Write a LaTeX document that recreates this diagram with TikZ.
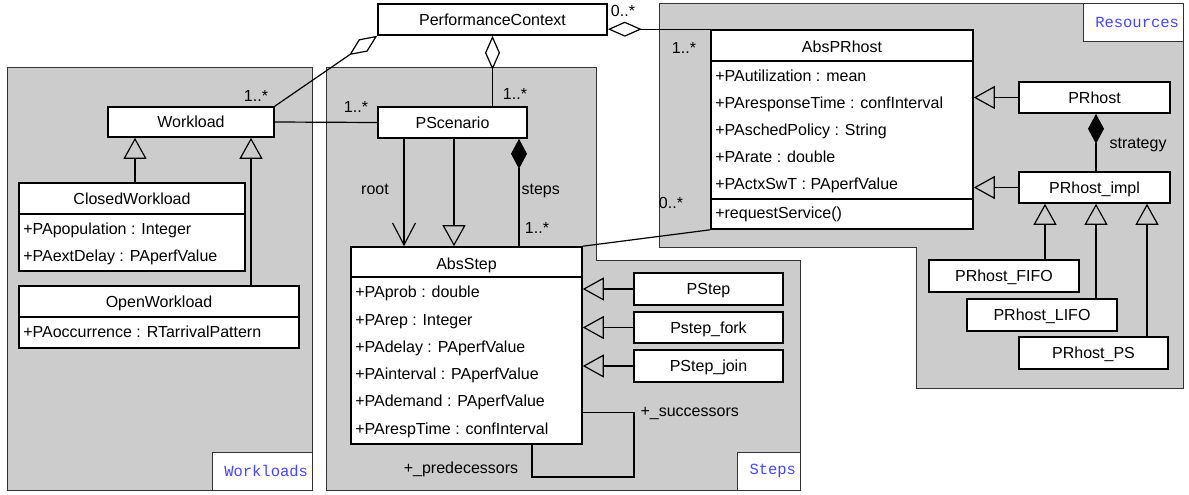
\documentclass[tikz,border=0pt]{standalone}
\usepackage{fontspec}
\setmainfont{Liberation Sans}
\setmonofont{Liberation Mono}
\usetikzlibrary{positioning,arrows.meta}
\definecolor{pkggray}{RGB}{204,204,204}
\definecolor{tagblue}{RGB}{70,70,255}

\begin{document}
\begin{tikzpicture}[x=1pt,y=-1pt,
    font=\fontsize{16}{19}\selectfont,
    txt/.style={text height=11.5pt,text depth=0pt},
    pkg/.style={draw=black!80,fill=pkggray,line width=1pt},
    tag/.style={draw=black!80,fill=white,line width=1pt,inner xsep=4pt,inner ysep=0pt,
                align=right,minimum height=38pt,text=tagblue,font=\ttfamily\fontsize{15.5}{18}\selectfont},
    cls/.style={txt,draw,fill=white,line width=1.6pt,inner sep=0pt},
    title/.style={txt,inner sep=0pt},
    attr/.style={txt,anchor=west,inner sep=0pt,xshift=4.5pt},
    lbl/.style={txt,inner sep=0pt},
    gen/.style={-{Triangle[open,length=21pt,width=23pt]}},
    agg/.style={{Diamond[open,length=34pt,width=15pt]}-},
    comp/.style={{Diamond[length=30pt,width=16pt]}-},
    nav/.style={-{Straight Barb[length=22pt,width=23pt]}},
    every path/.style={line width=1.2pt}]
    \useasboundingbox (0,0) rectangle (1189,495);

    % packages
    \draw[pkg] (7,68) rectangle (312,490);
    \draw[pkg] (326,68) -- (596,68) -- (596,260) -- (800,260) -- (800,490) -- (326,490) -- cycle;
    \draw[pkg] (659,4) -- (1183,4) -- (1183,388) -- (916,388) -- (916,247) -- (659,247) -- cycle;
    \node[tag,text width=92pt] (tw) at (262,471)    {Workloads};
    \node[tag,text width=55pt] (ts) at (768.5,471)  {Steps};
    \node[tag,text width=92pt] (tr) at (1133,22.5)  {Resources};

    % classes
    \node[cls,minimum width=229,minimum height=31] (pc) at (492.5,19.5) {PerformanceContext};
    \node[cls,minimum width=166,minimum height=30] (wl) at (191,122)    {Workload};
    \node[cls,minimum width=149,minimum height=31] (ps) at (452.5,122.5) {PScenario};

    \node[cls,minimum width=226,minimum height=88] (cw) at (132,227) {};
    \node[title] (cwt) at ([yshift=-16.5]cw.north) {ClosedWorkload};
    \draw[line width=1.6pt] ([yshift=-32]cw.north west) -- ([yshift=-32]cw.north east);
    \node[attr] (cw1) at ([yshift=-47]cw.north west) {+PApopulation : Integer};
    \node[attr] (cw2) at ([yshift=-74]cw.north west) {+PAextDelay : PAperfValue};

    \node[cls,minimum width=280,minimum height=62] (ow) at (159,317) {};
    \node[title] (owt) at ([yshift=-16.5]ow.north) {OpenWorkload};
    \draw[line width=1.6pt] ([yshift=-32]ow.north west) -- ([yshift=-32]ow.north east);
    \node[attr] (ow1) at ([yshift=-46.5]ow.north west) {+PAoccurrence : RTarrivalPattern};

    \node[cls,minimum width=231,minimum height=197] (as) at (466.5,345.5) {};
    \node[title] (ast) at ([yshift=-18]as.north) {AbsStep};
    \draw[line width=1.6pt] ([yshift=-31]as.north west) -- ([yshift=-31]as.north east);
    \node[attr] (as1) at ([yshift=-46]as.north west)  {+PAprob : double};
    \node[attr] (as2) at ([yshift=-73.5]as.north west) {+PArep : Integer};
    \node[attr] (as3) at ([yshift=-101]as.north west) {+PAdelay : PAperfValue};
    \node[attr] (as4) at ([yshift=-128]as.north west) {+PAinterval : PAperfValue};
    \node[attr] (as5) at ([yshift=-155]as.north west) {+PAdemand : PAperfValue};
    \node[attr] (as6) at ([yshift=-183]as.north west) {+PArespTime : confInterval};

    \node[cls,minimum width=149,minimum height=32] (st) at (708.5,289)   {PStep};
    \node[cls,minimum width=149,minimum height=31] (sf) at (708.5,327.5) {Pstep\_fork};
    \node[cls,minimum width=149,minimum height=32] (sj) at (708.5,366)   {PStep\_join};

    \node[cls,minimum width=262,minimum height=199] (ap) at (842,129.5) {};
    \node[title] (apt) at ([yshift=-17.5]ap.north) {AbsPRhost};
    \draw[line width=1.6pt] ([yshift=-32]ap.north west) -- ([yshift=-32]ap.north east);
    \node[attr] (ap1) at ([yshift=-47]ap.north west)  {+PAutilization : mean};
    \node[attr] (ap2) at ([yshift=-73.5]ap.north west)  {+PAresponseTime : confInterval};
    \node[attr] (ap3) at ([yshift=-100.5]ap.north west) {+PAschedPolicy : String};
    \node[attr] (ap4) at ([yshift=-127.5]ap.north west) {+PArate : double};
    \node[attr] (ap5) at ([yshift=-155]ap.north west) {+PActxSwT : PAperfValue};
    \draw[line width=1.6pt] ([yshift=-170]ap.north west) -- ([yshift=-170]ap.north east);
    \node[attr] (ap6) at ([yshift=-183.5]ap.north west) {+requestService()};

    \node[cls,minimum width=151,minimum height=31] (pr) at (1094.5,97.5)  {PRhost};
    \node[cls,minimum width=151,minimum height=31] (pi) at (1094.5,187.5) {PRhost\_impl};
    \node[cls,minimum width=150,minimum height=32] (pf) at (1004,276)     {PRhost\_FIFO};
    \node[cls,minimum width=150,minimum height=32] (pl) at (1042,315)     {PRhost\_LIFO};
    \node[cls,minimum width=149,minimum height=32] (pp) at (1093.5,353)   {PRhost\_PS};

    % connectors
    \draw[agg] (pc.south west) -- (wl.north east);
    \draw (wl.east) -- (ps.west);
    \draw[agg] (pc.south) -- (pc.south |- ps.north);
    \draw[agg] (pc.east |- ap.north west) -- (ap.north west);
    \draw[gen] ([xshift=3]cw.north) -- ([xshift=3]cw.north |- wl.south);
    \draw[gen] ([xshift=92]ow.north) -- ([xshift=92]ow.north |- wl.south);
    \draw[nav] ([xshift=-48.5]ps.south) -- ([xshift=-48.5]ps.south |- as.north);
    \draw[gen] ([xshift=1.5]ps.south) -- ([xshift=1.5]ps.south |- as.north);
    \draw[comp] ([xshift=66.5]ps.south) -- ([xshift=66.5]ps.south |- as.north);
    \coordinate (lp) at (634,477);
    \draw ([xshift=65.5]as.south) |- (lp) |- ([yshift=-166]as.north east);
    \draw[gen] (st.west) -- (st.west -| as.east);
    \draw[gen] (sf.west) -- (sf.west -| as.east);
    \draw[gen] (sj.west) -- (sj.west -| as.east);
    \draw (as.north east) -- (ap.south west);
    \draw[gen] (pr.west) -- (pr.west -| ap.east);
    \draw[gen] (pi.west) -- (pi.west -| ap.east);
    \draw[comp] ([xshift=1.5]pr.south) -- ([xshift=1.5]pr.south |- pi.north);
    \draw[gen] ([xshift=41]pf.north) -- ([xshift=41]pf.north |- pi.south);
    \draw[gen] ([xshift=54]pl.north) -- ([xshift=54]pl.north |- pi.south);
    \draw[gen] ([xshift=53.5]pp.north) -- ([xshift=53.5]pp.north |- pi.south);

    % labels
    \node[lbl] (m1) at (256,96)  {1..*};
    \node[lbl] (m2) at (356,107) {1..*};
    \node[lbl] (m3) at (515,94)  {1..*};
    \node[lbl] (m4) at (537,228) {1..*};
    \node[lbl] (m5) at (623,11)  {0..*};
    \node[lbl] (m6) at (684,48)  {1..*};
    \node[lbl] (m7) at (671,203) {0..*};
    \node[lbl] (rt) at (375,189) {root};
    \node[lbl,anchor=west] (sp) at (521,189)  {steps};
    \node[lbl,anchor=west] (sg) at (1109,143) {strategy};
    \node[lbl] (pd) at (461,468) {+\_predecessors};
    \node[lbl,anchor=west] (sc) at (640,411)  {+\_successors};
\end{tikzpicture}
\end{document}
